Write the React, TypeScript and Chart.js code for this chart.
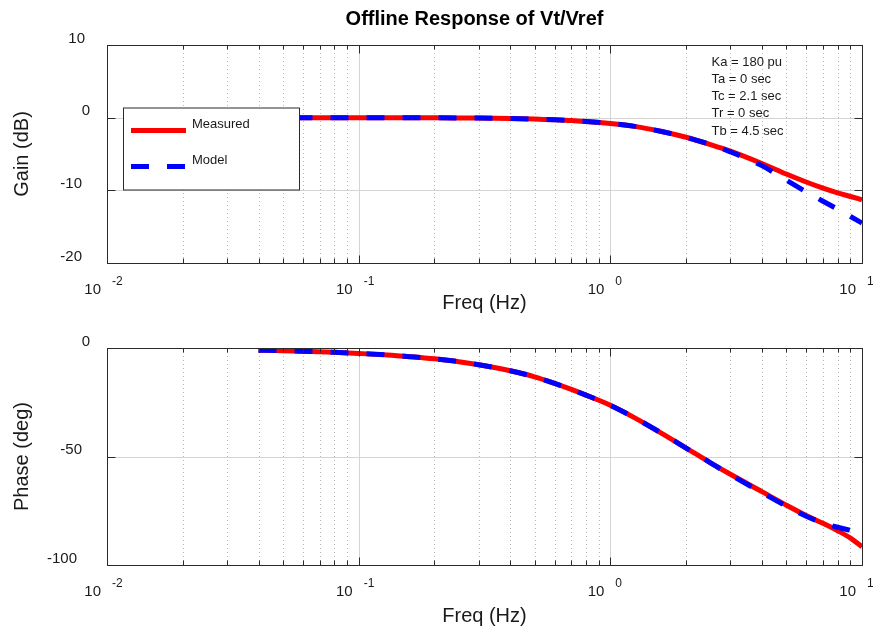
import { useEffect, useRef } from "react";
import { Chart, registerables } from "chart.js";

Chart.register(...registerables);

const FONT = '"Liberation Sans", Arial, Helvetica, sans-serif';
const TEXT = "#1a1a1a";

// ---- data ----
const freqHz = [0.04, 0.05, 0.06, 0.08, 0.1, 0.13, 0.16, 0.2, 0.25, 0.3, 0.4, 0.5, 0.6, 0.7, 0.8, 1, 1.25, 1.6, 2, 2.5, 3, 4, 5, 6, 7, 8, 9, 10];
const gainMeasured = [0, 0, 0, 0, 0, 0, 0, -0.02, -0.04, -0.06, -0.12, -0.2, -0.28, -0.4, -0.52, -0.8, -1.2, -1.9, -2.7, -3.7, -4.6, -6.3, -7.75, -8.85, -9.7, -10.35, -10.85, -11.3];
const gainModel = [0, 0, 0, 0, 0, 0, 0, -0.02, -0.04, -0.06, -0.12, -0.2, -0.28, -0.4, -0.52, -0.8, -1.2, -1.9, -2.7, -3.7, -4.7, -6.6, -8.6, -10.2, -11.5, -12.6, -13.6, -14.5];
const phaseMeasured = [-1.0, -1.25, -1.5, -2.0, -2.5, -3.2, -4.0, -5.0, -6.3, -7.7, -10.5, -13.3, -16.3, -19.1, -21.7, -26.4, -32.2, -39.3, -46.1, -52.9, -58.2, -66.2, -72.4, -77.2, -80.8, -84.2, -87.6, -91.6];
const phaseModel = [-1.0, -1.25, -1.5, -2.0, -2.5, -3.2, -4.0, -5.0, -6.3, -7.7, -10.5, -13.3, -16.3, -19.1, -21.7, -26.4, -32.2, -39.3, -46.1, -52.9, -58.4, -66.6, -72.9, -77.5, -80.6, -82.6, -84.0, -85.4];

const seriesNames = ["Measured", "Model"];
const xDecades = [0.01, 0.1, 1, 10];
const xExponents = ["-2", "-1", "0", "1"];
const gainTicks = [10, 0, -10, -20];
const phaseTicks = [0, -50, -100];
const paramLines = ["Ka = 180 pu", "Ta = 0 sec", "Tc = 2.1 sec", "Tr = 0 sec", "Tb = 4.5 sec"];
const chartTitle = "Offline Response of Vt/Vref";
const xTitle = "Freq (Hz)";

const framePlugin = {
  id: "frame",
  beforeDatasetsDraw(chart: any, _a: any, o: any) {
    const { ctx, chartArea: a } = chart;
    const x = chart.scales.x;
    const y = chart.scales.y;
    ctx.save();
    ctx.lineWidth = 1;
    const vline = (px: number) => {
      const p = Math.round(px) + 0.5;
      ctx.beginPath();
      ctx.moveTo(p, a.top);
      ctx.lineTo(p, a.bottom);
      ctx.stroke();
    };
    ctx.strokeStyle = "#b8b8b8";
    ctx.setLineDash([1, 3]);
    for (let d = 0; d < xDecades.length - 1; d++) {
      for (let m = 2; m < 10; m++) vline(x.getPixelForValue(xDecades[d] * m));
    }
    ctx.setLineDash([]);
    ctx.strokeStyle = "#d4d4d4";
    xDecades.forEach((v) => vline(x.getPixelForValue(v)));
    o.yTicks.forEach((v: number) => {
      const p = Math.round(y.getPixelForValue(v)) + 0.5;
      ctx.beginPath();
      ctx.moveTo(a.left, p);
      ctx.lineTo(a.right, p);
      ctx.stroke();
    });
    ctx.restore();
  },
  afterDatasetsDraw(chart: any, _a: any, o: any) {
    const { ctx, chartArea: a } = chart;
    const x = chart.scales.x;
    const y = chart.scales.y;
    const L = Math.round(a.left) + 0.5;
    const R = Math.round(a.right) + 0.5;
    const T = Math.round(a.top) + 0.5;
    const B = Math.round(a.bottom) + 0.5;
    ctx.save();
    const seg = (x1: number, y1: number, x2: number, y2: number) => {
      ctx.beginPath();
      ctx.moveTo(x1, y1);
      ctx.lineTo(x2, y2);
      ctx.stroke();
    };
    // frame
    ctx.lineWidth = 1;
    ctx.strokeStyle = "#2a2a2a";
    ctx.strokeRect(L, T, R - L, B - T);
    // ticks
    xDecades.forEach((v, d) => {
      const p = Math.round(x.getPixelForValue(v)) + 0.5;
      seg(p, B, p, B - 8);
      seg(p, T, p, T + 8);
      if (d < xDecades.length - 1) {
        for (let m = 2; m < 10; m++) {
          const q = Math.round(x.getPixelForValue(v * m)) + 0.5;
          seg(q, B, q, B - 5);
          seg(q, T, q, T + 4);
        }
      }
    });
    o.yTicks.forEach((v: number) => {
      const p = Math.round(y.getPixelForValue(v)) + 0.5;
      seg(L, p, L + 8, p);
      seg(R, p, R - 8, p);
    });

    ctx.fillStyle = TEXT;
    ctx.textBaseline = "middle";
    // x tick labels 10^n
    xDecades.forEach((v, i) => {
      const p = x.getPixelForValue(v);
      ctx.font = `15px ${FONT}`;
      ctx.textAlign = "right";
      ctx.fillText("10", p - 6, a.bottom + 27);
      ctx.font = `12px ${FONT}`;
      ctx.textAlign = "left";
      ctx.fillText(xExponents[i], p + 5, a.bottom + 19);
    });
    // y tick labels
    ctx.font = `15px ${FONT}`;
    ctx.textAlign = "right";
    o.yTicks.forEach((v: number) => {
      const s = String(v);
      const w = ctx.measureText(s).width;
      ctx.fillText(s, 95 - 0.6 * w, y.getPixelForValue(v) - 6.5);
    });
    // axis titles
    ctx.font = `20px ${FONT}`;
    ctx.textAlign = "center";
    ctx.fillText(xTitle, (a.left + a.right) / 2, a.bottom + o.xTitleOffset);
    ctx.save();
    ctx.translate(22, (a.top + a.bottom) / 2);
    ctx.rotate(-Math.PI / 2);
    ctx.fillText(o.yTitle, 0, 0);
    ctx.restore();

    if (o.title) {
      ctx.font = `bold 20px ${FONT}`;
      ctx.textAlign = "center";
      ctx.fillStyle = "#000";
      ctx.fillText(o.title, (a.left + a.right) / 2 - 10, 19);
      ctx.fillStyle = TEXT;
    }

    if (o.params) {
      ctx.font = `13px ${FONT}`;
      ctx.textAlign = "left";
      o.params.forEach((s: string, i: number) => {
        ctx.fillText(s, 711.5, 62 + i * 17.25);
      });
    }

    if (o.legend) {
      const bx = a.left + 16;
      const by = a.top + 62.5;
      const bw = 176;
      const bh = 82;
      ctx.fillStyle = "#fff";
      ctx.fillRect(bx, by, bw, bh);
      ctx.strokeStyle = "#2a2a2a";
      ctx.lineWidth = 1;
      ctx.strokeRect(bx + 0.5, by + 0.5, bw, bh);
      const ds = chart.data.datasets;
      const rows = [by + 23, by + 59];
      ds.forEach((d: any, i: number) => {
        ctx.save();
        ctx.strokeStyle = d.borderColor;
        ctx.lineWidth = d.borderWidth;
        ctx.lineCap = "butt";
        ctx.setLineDash(d.borderDash || []);
        seg(bx + 8, rows[i], bx + 63, rows[i]);
        ctx.restore();
        ctx.fillStyle = TEXT;
        ctx.font = `13px ${FONT}`;
        ctx.textAlign = "left";
        ctx.fillText(d.label, bx + 69, rows[i] - 6);
      });
    }
    ctx.restore();
  },
};

function makeConfig(measured: number[], model: number[], yMin: number, yMax: number, padding: any, frame: any) {
  return {
    type: "line" as const,
    data: {
      datasets: [
        {
          label: seriesNames[0],
          data: freqHz.map((f, i) => ({ x: f, y: measured[i] })),
          borderColor: "#ff0000",
          borderWidth: 5,
          pointRadius: 0,
          cubicInterpolationMode: "monotone" as const,
          order: 1,
        },
        {
          label: seriesNames[1],
          data: freqHz.map((f, i) => ({ x: f, y: model[i] })),
          borderColor: "#0000ff",
          borderWidth: 5,
          borderDash: [18, 18],
          borderCapStyle: "butt" as const,
          pointRadius: 0,
          cubicInterpolationMode: "monotone" as const,
          order: 0,
        },
      ],
    },
    options: {
      responsive: false,
      maintainAspectRatio: false,
      animation: false as const,
      devicePixelRatio: 1,
      events: [] as any[],
      layout: { padding },
      scales: {
        x: { type: "logarithmic" as const, min: 0.01, max: 10, display: false },
        y: { type: "linear" as const, min: yMin, max: yMax, display: false },
      },
      plugins: {
        legend: { display: false },
        tooltip: { enabled: false },
        title: { display: false },
        frame,
      },
    },
    plugins: [framePlugin],
  };
}

export default function App() {
  const topRef = useRef<HTMLCanvasElement>(null);
  const botRef = useRef<HTMLCanvasElement>(null);

  useEffect(() => {
    const top = new Chart(
      topRef.current as HTMLCanvasElement,
      makeConfig(gainMeasured, gainModel, -20, 10, { left: 107, right: 11, top: 45, bottom: 57 }, {
        yTicks: gainTicks,
        yTitle: "Gain (dB)",
        xTitleOffset: 40.5,
        title: chartTitle,
        legend: true,
        params: paramLines,
      }) as any
    );
    const bot = new Chart(
      botRef.current as HTMLCanvasElement,
      makeConfig(phaseMeasured, phaseModel, -100, 0, { left: 107, right: 11, top: 28, bottom: 66 }, {
        yTicks: phaseTicks,
        yTitle: "Phase (deg)",
        xTitleOffset: 51.5,
      }) as any
    );
    return () => {
      top.destroy();
      bot.destroy();
    };
  }, []);

  return (
    <div style={{ position: "absolute", left: 0, top: 0, width: 873, height: 631, background: "#fff" }}>
      <canvas ref={topRef} width={873} height={320} style={{ position: "absolute", left: 0, top: 0, display: "block" }} />
      <canvas ref={botRef} width={873} height={311} style={{ position: "absolute", left: 0, top: 320, display: "block" }} />
    </div>
  );
}
